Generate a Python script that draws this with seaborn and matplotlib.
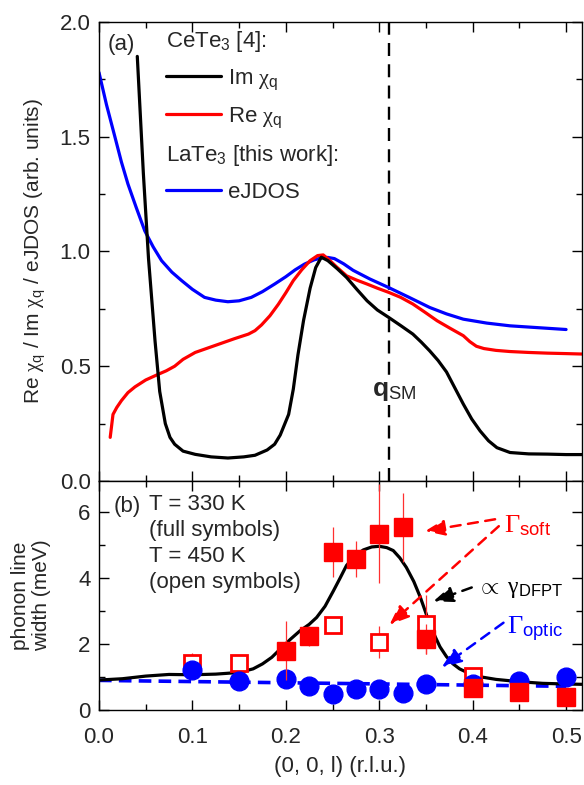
import numpy as np
import pandas as pd
import matplotlib
matplotlib.use("Agg")
import matplotlib.pyplot as plt
import seaborn as sns
from matplotlib.lines import Line2D
from matplotlib.ticker import MultipleLocator

# ---- panel (a): CeTe3 susceptibility and LaTe3 eJDOS ----
im_x = [0.041, 0.0475, 0.053, 0.060, 0.065, 0.071, 0.076, 0.081, 0.090, 0.103, 0.120,
        0.138, 0.155, 0.167, 0.180, 0.188, 0.194, 0.203, 0.208, 0.213, 0.219, 0.226, 0.232,
        0.238, 0.245, 0.255, 0.265, 0.276, 0.287, 0.298, 0.310, 0.323, 0.336, 0.345,
        0.354, 0.363, 0.372, 0.381, 0.390, 0.399, 0.408, 0.417, 0.426, 0.440, 0.460,
        0.480, 0.500, 0.518]
im_y = [1.85, 1.34, 0.97, 0.61, 0.39, 0.25, 0.19, 0.16, 0.13, 0.116, 0.105,
        0.10, 0.105, 0.112, 0.135, 0.16, 0.20, 0.29, 0.40, 0.55, 0.70, 0.84, 0.93,
        0.975, 0.96, 0.925, 0.887, 0.835, 0.785, 0.745, 0.713, 0.677, 0.64, 0.605,
        0.567, 0.525, 0.475, 0.405, 0.335, 0.27, 0.218, 0.175, 0.145, 0.124, 0.118,
        0.117, 0.115, 0.115]

re_x = [0.012, 0.015, 0.019, 0.024, 0.031, 0.0385, 0.050, 0.0635, 0.072, 0.081, 0.090,
        0.103, 0.117, 0.131, 0.145, 0.160, 0.167, 0.174, 0.183, 0.192, 0.200, 0.208,
        0.217, 0.226, 0.234, 0.240, 0.246, 0.255, 0.265, 0.276, 0.287, 0.298, 0.310,
        0.323, 0.336, 0.349, 0.362, 0.376, 0.390, 0.397, 0.404, 0.412, 0.425, 0.440,
        0.460, 0.480, 0.500, 0.518]
re_y = [0.19, 0.29, 0.32, 0.35, 0.385, 0.41, 0.44, 0.465, 0.48, 0.50, 0.53,
        0.56, 0.58, 0.60, 0.62, 0.64, 0.655, 0.68, 0.72, 0.77, 0.82, 0.873,
        0.92, 0.96, 0.982, 0.985, 0.965, 0.93, 0.894, 0.875, 0.858, 0.84, 0.822,
        0.80, 0.771, 0.735, 0.698, 0.665, 0.633, 0.607, 0.587, 0.577, 0.569, 0.564,
        0.560, 0.557, 0.555, 0.553]

ejdos_x = [0.0, 0.008, 0.017, 0.024, 0.031, 0.040, 0.049, 0.058, 0.067, 0.078, 0.0885,
           0.100, 0.113, 0.125, 0.138, 0.150, 0.163, 0.175, 0.188, 0.200, 0.210, 0.220,
           0.230, 0.238, 0.245, 0.252, 0.262, 0.272, 0.290, 0.310, 0.332, 0.354, 0.372,
           0.390, 0.415, 0.440, 0.470, 0.500]
ejdos_y = [1.78, 1.64, 1.50, 1.39, 1.294, 1.19, 1.09, 1.02, 0.96, 0.91, 0.873,
           0.835, 0.80, 0.788, 0.781, 0.785, 0.80, 0.825, 0.858, 0.89, 0.92, 0.945,
           0.963, 0.972, 0.974, 0.969, 0.946, 0.918, 0.88, 0.843, 0.80, 0.756, 0.728,
           0.705, 0.688, 0.676, 0.668, 0.66]

q_sm = 0.31

# ---- panel (b): phonon line widths ----
dfpt_x = [0.0, 0.025, 0.05, 0.075, 0.1, 0.125, 0.15, 0.165, 0.175, 0.185, 0.194, 0.205,
          0.215, 0.225, 0.233, 0.242, 0.251, 0.258, 0.265, 0.274, 0.283, 0.292, 0.30, 0.308,
          0.315, 0.322, 0.329, 0.337, 0.344, 0.349, 0.354, 0.36, 0.365, 0.372, 0.379,
          0.386, 0.394, 0.41, 0.425, 0.45, 0.475, 0.5, 0.518]
dfpt_y = [0.91, 0.95, 1.03, 1.08, 1.07, 1.09, 1.14, 1.25, 1.40, 1.60, 1.85, 2.15,
          2.40, 2.60, 2.81, 3.15, 3.62, 4.00, 4.39, 4.68, 4.86, 4.95, 4.97, 4.93,
          4.84, 4.62, 4.33, 3.90, 3.42, 3.02, 2.61, 2.22, 1.92, 1.62, 1.40,
          1.25, 1.14, 1.00, 0.93, 0.86, 0.81, 0.79, 0.78]

soft330_x = [0.2, 0.225, 0.25, 0.275, 0.3, 0.325, 0.35, 0.4, 0.45, 0.5]
soft330_y = [1.80, 2.25, 4.79, 4.59, 5.35, 5.55, 2.15, 0.66, 0.56, 0.41]
soft330_err = [0.9, 0.3, 0.76, 0.55, 1.5, 1.05, 0.45, 0.0, 0.0, 0.0]

soft450_x = [0.1, 0.15, 0.25, 0.3, 0.35, 0.4]
soft450_y = [1.44, 1.44, 2.59, 2.07, 2.60, 1.03]
soft450_err = [0.3, 0.0, 0.0, 0.48, 0.9, 0.0]

optic_x = [0.1, 0.15, 0.2, 0.225, 0.25, 0.275, 0.3, 0.325, 0.35, 0.4, 0.45, 0.5]
optic_y = [1.20, 0.88, 0.93, 0.74, 0.49, 0.64, 0.64, 0.51, 0.79, 0.78, 0.88, 1.00]

optic_fit_x = [0.0, 0.5]
optic_fit_y = [0.90, 0.72]

# ---- style ----
sns.set_theme(style="ticks")
plt.rcParams["font.family"] = ["Liberation Sans", "DejaVu Sans"]
plt.rcParams["mathtext.fontset"] = "custom"
plt.rcParams["mathtext.rm"] = "Liberation Serif"
plt.rcParams["mathtext.it"] = "Liberation Serif:italic"
plt.rcParams["mathtext.sf"] = "Liberation Sans"
plt.rcParams["mathtext.bf"] = "Liberation Sans:bold"
plt.rcParams["axes.edgecolor"] = "black"
plt.rcParams["axes.linewidth"] = 1.0

FS = 16
chi = r"$\mathrm{\chi}_{\mathsf{q}}$"

fig = plt.figure(figsize=(5.84, 7.85), dpi=100)
ax1 = fig.add_axes([0.1695, 0.3873, 0.827, 0.5847])
ax2 = fig.add_axes([0.1695, 0.0955, 0.827, 0.2917])

# panel (a)
sns.lineplot(x=ejdos_x, y=ejdos_y, ax=ax1, color="#0000ff", lw=2.3)
sns.lineplot(x=re_x, y=re_y, ax=ax1, color="#ff0000", lw=2.3)
sns.lineplot(x=im_x, y=im_y, ax=ax1, color="black", lw=2.3)
ax1.axvline(q_sm, color="black", lw=1.7, ls=(0, (5.5, 3.5)), zorder=1)
ax1.text(q_sm - 0.018, 0.39, r"$\mathbf{q}_{\mathsf{SM}}$", fontsize=FS + 3, ha="left",
         va="center", bbox=dict(facecolor="white", edgecolor="none", pad=1), zorder=3)

ax1.set_xlim(0, 0.517)
ax1.set_ylim(0, 2.0)
ax1.yaxis.set_major_locator(MultipleLocator(0.5))
ax1.yaxis.set_minor_locator(MultipleLocator(0.25))
ax1.xaxis.set_major_locator(MultipleLocator(0.1))
ax1.xaxis.set_minor_locator(MultipleLocator(0.05))
ax1.set_xticklabels([])
ax1.yaxis.set_major_formatter(matplotlib.ticker.FormatStrFormatter("%.1f"))
ax1.set_ylabel("Re " + chi + " / Im " + chi + " / eJDOS (arb. units)", fontsize=FS - 1)
ax1.yaxis.set_label_coords(-0.105, 0.5)
ax1.text(0.017, 0.952, "(a)", transform=ax1.transAxes, fontsize=FS, va="center")

handles = [Line2D([], [], ls="none"),
           Line2D([], [], color="black", lw=2.3),
           Line2D([], [], color="#ff0000", lw=2.3),
           Line2D([], [], ls="none"),
           Line2D([], [], color="#0000ff", lw=2.3)]
labels = [r"CeTe$_{\mathsf{3}}$ [4]:", "Im " + chi, "Re " + chi,
          r"LaTe$_{\mathsf{3}}$ [this work]:", "eJDOS"]
leg = ax1.legend(handles, labels, loc="upper left", bbox_to_anchor=(0.138, 0.984),
                 frameon=False, fontsize=FS, handlelength=2.5, handletextpad=0.3,
                 labelspacing=0.6, borderpad=0, borderaxespad=0)
rows = leg._legend_handle_box.get_children()[0].get_children()
for i in (0, 3):
    rows[i].get_children()[0].set_width(0)
    rows[i].sep = 0

# panel (b)
sns.lineplot(x=optic_fit_x, y=optic_fit_y, ax=ax2, color="#0000ff", lw=2.6,
             ls=(0, (3.5, 2.0)), zorder=1)
sns.lineplot(x=dfpt_x, y=dfpt_y, ax=ax2, color="black", lw=2.3, zorder=2)
ax2.errorbar(soft450_x, soft450_y, yerr=soft450_err, fmt="s", ms=11, mfc="white",
             mec="#ff0000", mew=2.0, ecolor="#ff3030", elinewidth=0.9, capsize=0, zorder=3)
ax2.plot(optic_x, optic_y, "o", ms=13.5, color="#0000ff", zorder=4)
ax2.errorbar(soft330_x, soft330_y, yerr=soft330_err, fmt="s", ms=12.5, color="#ff0000",
             ecolor="#ff3030", elinewidth=0.9, capsize=0, zorder=5)

arrow_kw = dict(arrowstyle="-|>,head_length=1.0,head_width=0.4", lw=1.8,
                ls=(0, (4, 3)), shrinkA=0, shrinkB=0)
ax2.annotate("", xy=(0.349, 5.43), xytext=(0.424, 5.79),
             arrowprops=dict(color="#ff0000", **arrow_kw))
ax2.annotate("", xy=(0.311, 2.59), xytext=(0.428, 5.58),
             arrowprops=dict(color="#ff0000", **arrow_kw))
ax2.annotate("", xy=(0.358, 3.3), xytext=(0.399, 3.72),
             arrowprops=dict(color="black", **arrow_kw))
ax2.annotate("", xy=(0.367, 1.3), xytext=(0.433, 2.65),
             arrowprops=dict(color="#0000ff", **arrow_kw))
ax2.text(0.434, 5.6, r"$\mathrm{\Gamma}_{\mathsf{soft}}$", color="#ff0000",
         fontsize=FS + 3, va="center")
ax2.text(0.405, 3.68, r"$\propto\ \mathrm{\gamma}_{\mathsf{DFPT}}$", color="black",
         fontsize=FS + 1, va="center")
ax2.text(0.437, 2.45, r"$\mathrm{\Gamma}_{\mathsf{optic}}$", color="#0000ff",
         fontsize=FS + 3, va="center")

ax2.text(0.031, 0.89, "(b)", transform=ax2.transAxes, fontsize=FS, va="center")
ax2.text(0.104, 0.945, "T = 330 K\n(full symbols)\nT = 450 K\n(open symbols)",
         transform=ax2.transAxes, fontsize=FS, va="top", linespacing=1.32)

ax2.set_xlim(0, 0.517)
ax2.set_ylim(0, 6.95)
ax2.yaxis.set_major_locator(MultipleLocator(2))
ax2.yaxis.set_minor_locator(MultipleLocator(1))
ax2.xaxis.set_major_locator(MultipleLocator(0.1))
ax2.xaxis.set_minor_locator(MultipleLocator(0.05))
ax2.xaxis.set_major_formatter(matplotlib.ticker.FormatStrFormatter("%.1f"))
ax2.set_xlabel("(0, 0, l) (r.l.u.)", fontsize=FS, labelpad=6)
ax2.set_ylabel("phonon line\nwidth (meV)", fontsize=FS - 1, linespacing=1.1)
ax2.yaxis.set_label_coords(-0.1, 0.5)

for ax in (ax1, ax2):
    ax.tick_params(which="both", direction="in", top=True, right=True,
                   labelsize=FS, color="black")
    ax.tick_params(which="major", length=7, width=1.0, pad=6)
    ax.tick_params(which="minor", length=4, width=1.0)
    for s in ax.spines.values():
        s.set_visible(True)
        s.set_color("black")
ax2.tick_params(axis="x", which="major", pad=12)

fig.savefig("out.png", dpi=100)
